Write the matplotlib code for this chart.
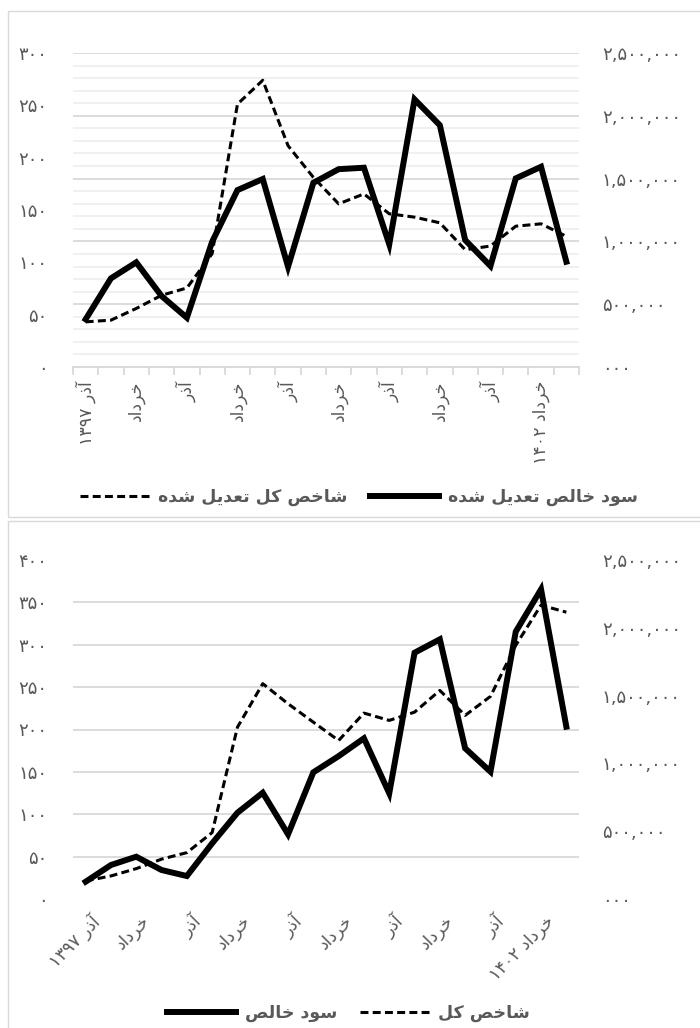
import matplotlib
matplotlib.use("Agg")
import numpy as np
import matplotlib.pyplot as plt
from matplotlib.transforms import ScaledTranslation
from matplotlib.lines import Line2D
from matplotlib.patches import Rectangle

plt.rcParams['font.family'] = ['DejaVu Sans']

# ---------------- data ----------------
categories = ["آذر ۱۳۹۷", "", "خرداد", "", "آذر", "", "خرداد", "", "آذر", "",
              "خرداد", "", "آذر", "", "خرداد", "", "آذر", "", "خرداد ۱۴۰۲", ""]

adj_profit = [45.6, 84.7, 100.0, 67.8, 47.1, 119.7, 169.0, 179.6, 95.8, 176.0,
              189.0, 190.4, 117.2, 255.7, 231.0, 121.3, 96.5, 180.2, 191.3, 100.6]
adj_index = [359500, 373000, 466000, 571000, 629000, 902000, 2093000, 2283000, 1762000, 1510000,
             1299000, 1378000, 1220000, 1193000, 1148000, 934000, 963000, 1121000, 1140000, 1040000]

profit = [20.4, 40.1, 49.9, 34.2, 27.1, 65.7, 101.8, 125.4, 76.3, 149.5,
          168.6, 189.6, 124.7, 290.6, 306.4, 177.8, 150.2, 315.4, 365.4, 203.3]
index_total = [133000, 170000, 224000, 294000, 342000, 490000, 1267000, 1588000, 1440000, 1304000,
               1169000, 1371000, 1317000, 1378000, 1538000, 1354000, 1494000, 1871000, 2167000, 2115000]

left_ticks_top = [0, 50, 100, 150, 200, 250, 300]
left_labels_top = ["۰", "۵۰", "۱۰۰", "۱۵۰", "۲۰۰", "۲۵۰", "۳۰۰"]
left_ticks_bot = [0, 50, 100, 150, 200, 250, 300, 350, 400]
left_labels_bot = ["۰", "۵۰", "۱۰۰", "۱۵۰", "۲۰۰", "۲۵۰", "۳۰۰", "۳۵۰", "۴۰۰"]
right_ticks = [0, 500000, 1000000, 1500000, 2000000, 2500000]
right_labels = ["۰۰۰", "۵۰۰,۰۰۰", "۱,۰۰۰,۰۰۰", "۱,۵۰۰,۰۰۰", "۲,۰۰۰,۰۰۰", "۲,۵۰۰,۰۰۰"]

legend_top = ["شاخص کل تعدیل شده", "سود خالص تعدیل شده"]
legend_bot = ["سود خالص", "شاخص کل"]

# ---------------- minimal Persian shaping (visual order) ----------------
FORMS = {
    'ا': ('\uFE8D', '\uFE8E', None, None),
    'آ': ('\uFE81', '\uFE82', None, None),
    'د': ('\uFEA9', '\uFEAA', None, None),
    'ذ': ('\uFEAB', '\uFEAC', None, None),
    'ر': ('\uFEAD', '\uFEAE', None, None),
    'و': ('\uFEED', '\uFEEE', None, None),
    'ش': ('\uFEB5', '\uFEB6', '\uFEB7', '\uFEB8'),
    'خ': ('\uFEA5', '\uFEA6', '\uFEA7', '\uFEA8'),
    'ص': ('\uFEB9', '\uFEBA', '\uFEBB', '\uFEBC'),
    'ک': ('\uFB8E', '\uFB8F', '\uFB90', '\uFB91'),
    'ل': ('\uFEDD', '\uFEDE', '\uFEDF', '\uFEE0'),
    'ت': ('\uFE95', '\uFE96', '\uFE97', '\uFE98'),
    'ع': ('\uFEC9', '\uFECA', '\uFECB', '\uFECC'),
    'ی': ('\uFBFC', '\uFBFD', '\uFBFE', '\uFBFF'),
    'ه': ('\uFEE9', '\uFEEA', '\uFEEB', '\uFEEC'),
    'س': ('\uFEB1', '\uFEB2', '\uFEB3', '\uFEB4'),
}


def shape_word(w):
    out = []
    for i, ch in enumerate(w):
        if ch not in FORMS:
            out.append(ch)
            continue
        prev = w[i - 1] if i > 0 else None
        nxt = w[i + 1] if i + 1 < len(w) else None
        jp = prev in FORMS and FORMS[prev][2] is not None
        jn = FORMS[ch][2] is not None and nxt in FORMS
        iso, fin, ini, med = FORMS[ch]
        out.append(med if (jp and jn) else fin if jp else ini if jn else iso)
    return ''.join(out)


def rtl(text):
    vis = []
    for w in reversed(text.split(' ')):
        if any(ch in FORMS for ch in w):
            vis.append(shape_word(w)[::-1])
        else:
            vis.append(w)
    return ' '.join(vis)


# ---------------- figure ----------------
W, H = 700, 1028
fig = plt.figure(figsize=(W / 100, H / 100), dpi=100)

TXT = '#595959'
GRID = '#d9d9d9'
GRID_MINOR = '#efefef'
YSIZE = 13
XSIZE = 12.5
LSIZE = 12.5
x = np.arange(len(categories))


def frac_rect(x0, y0, x1, y1):
    return [x0 / W, 1 - y1 / H, (x1 - x0) / W, (y1 - y0) / H]


# panel borders
fig.patches.append(Rectangle((8 / W, 1 - 517 / H), 1.2, (517 - 11) / H, transform=fig.transFigure,
                             fill=False, ec=GRID, lw=1.0))
fig.patches.append(Rectangle((8 / W, -0.2), 1.2, 0.2 + 1 - 521 / H, transform=fig.transFigure,
                             fill=False, ec=GRID, lw=1.0))


def setup(ax, ax2, lticks, llabels, lmax):
    ax2.set_zorder(ax.get_zorder() - 1)
    ax.patch.set_visible(False)
    ax.set_xlim(-0.5, len(categories) - 0.5)
    ax.set_ylim(0, lmax)
    ax2.set_ylim(0, 2500000)
    ax.set_yticks(lticks, llabels)
    ax2.set_yticks(right_ticks, right_labels)
    for a in (ax, ax2):
        for s in a.spines.values():
            s.set_visible(False)
    ax.tick_params(axis='y', length=0, pad=18.5, labelsize=YSIZE, labelcolor=TXT)
    ax2.tick_params(axis='y', length=0, pad=16.5, labelsize=YSIZE, labelcolor=TXT)
    ax2.tick_params(axis='x', which='both', bottom=False, labelbottom=False)


# ---------------- top panel ----------------
ax = fig.add_axes(frac_rect(73, 53, 579, 367))
ax2 = ax.twinx()
setup(ax, ax2, left_ticks_top, left_labels_top, 300)
ax2.set_yticks(np.arange(0, 2500001, 100000), minor=True)
ax2.tick_params(axis='y', which='minor', length=0)
ax2.grid(True, which='minor', axis='y', color=GRID_MINOR, lw=1.3)
ax2.grid(True, which='major', axis='y', color=GRID, lw=1.3)
ax2.plot(x, adj_index, color='black', lw=2.2, dashes=(2.6, 1.4), solid_capstyle='butt')
ax.plot(x, adj_profit, color='black', lw=4.3, solid_joinstyle='miter')
ax.spines['bottom'].set_visible(True)
ax.spines['bottom'].set_color(GRID)
ax.spines['bottom'].set_linewidth(1.3)
ax.set_xticks(np.arange(-0.5, len(categories), 1), [''] * (len(categories) + 1))
ax.tick_params(axis='x', which='major', length=6, width=1.3, color=GRID)
ax.set_xticks(x, [rtl(c) for c in categories], minor=True)
ax.tick_params(axis='x', which='minor', length=0, pad=10, labelsize=XSIZE, labelcolor=TXT,
               labelrotation=90)

h_dash = Line2D([], [], color='black', lw=2.2, dashes=(2.6, 1.4))
h_solid = Line2D([], [], color='black', lw=4.3)
leg = fig.legend([h_dash, h_solid], [rtl(t) for t in legend_top], loc='center',
                 bbox_to_anchor=(359 / W, 1 - 497 / H), ncol=2, frameon=False,
                 handlelength=4.0, handletextpad=0.5, columnspacing=1.3,
                 prop=dict(weight='bold', size=LSIZE))
for t in leg.get_texts():
    t.set_color(TXT)

# ---------------- bottom panel ----------------
bx = fig.add_axes(frac_rect(73, 560, 579, 899))
bx2 = bx.twinx()
setup(bx, bx2, left_ticks_bot, left_labels_bot, 400)
bx2.set_yticks(np.linspace(0, 2500000, 9), minor=True)
bx2.tick_params(axis='y', which='minor', length=0)
bx2.grid(True, which='minor', axis='y', color=GRID, lw=1.3)
bx2.plot(x, index_total, color='black', lw=2.2, dashes=(2.6, 1.4))
bx.plot(x, profit, color='black', lw=4.3, solid_joinstyle='miter')
bx.set_xticks(x, [rtl(c) for c in categories])
bx.tick_params(axis='x', length=0, pad=14, labelsize=XSIZE, labelcolor=TXT)
off = ScaledTranslation(11 / 100, 0, fig.dpi_scale_trans)
for lab in bx.get_xticklabels():
    lab.set_rotation(45)
    lab.set_ha('right')
    lab.set_va('center')
    lab.set_rotation_mode('anchor')
    lab.set_transform(lab.get_transform() + off)

leg2 = fig.legend([h_solid, h_dash], [rtl(t) for t in legend_bot], loc='center',
                  bbox_to_anchor=(348 / W, 1 - 1013 / H), ncol=2, frameon=False,
                  handlelength=4.0, handletextpad=0.5, columnspacing=1.3,
                  prop=dict(weight='bold', size=LSIZE))
for t in leg2.get_texts():
    t.set_color(TXT)

fig.savefig('out.png', dpi=100)
